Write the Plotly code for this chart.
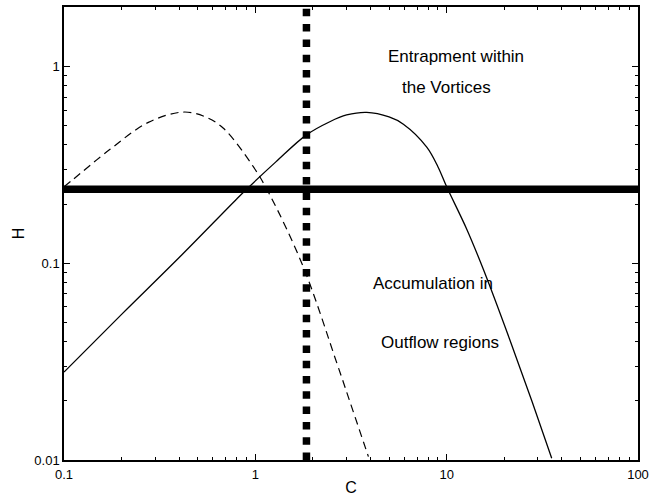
import plotly.graph_objects as go

# Solid curve
solid_c = [0.1, 0.2, 0.4, 0.79, 0.9, 1.28, 1.85, 2.45, 3.0, 3.82, 5.0, 5.94, 7.87, 9.0, 10.0, 12.7, 15.6, 21.4, 28.0, 35.4]
solid_h = [0.028, 0.055, 0.107, 0.21, 0.238, 0.328, 0.45, 0.525, 0.568, 0.586, 0.555, 0.51, 0.39, 0.31, 0.245, 0.15, 0.0925, 0.0408, 0.0197, 0.0102]

# Dashed curve
dash_c = [0.1, 0.112, 0.174, 0.276, 0.421, 0.55, 0.681, 0.976, 1.19, 1.78, 2.67, 3.2, 3.9]
dash_h = [0.245, 0.268, 0.38, 0.521, 0.588, 0.555, 0.486, 0.31, 0.223, 0.096, 0.031, 0.0184, 0.0104]

# Threshold lines
h_threshold = 0.238
c_threshold = 1.85

x_ticks = [0.1, 1, 10, 100]
x_ticklabels = ["0.1", "1", "10", "100"]
y_ticks = [0.01, 0.1, 1]
y_ticklabels = ["0.01", "0.1", "1"]

x_range = [0.1, 100]
y_range = [0.01, 2.01]

FONT = "Liberation Sans, Arial, Helvetica, sans-serif"

fig = go.Figure()

fig.add_trace(go.Scatter(x=x_range, y=[h_threshold, h_threshold], mode="lines",
                         line=dict(color="black", width=7.5), showlegend=False))
fig.add_trace(go.Scatter(x=[c_threshold, c_threshold], y=y_range, mode="lines",
                         line=dict(color="black", width=7.5, dash="7.5px,7.8px"), showlegend=False))
fig.add_trace(go.Scatter(x=solid_c, y=solid_h, mode="lines", line_shape="spline",
                         line=dict(color="black", width=1.3), showlegend=False))
fig.add_trace(go.Scatter(x=dash_c, y=dash_h, mode="lines", line_shape="spline",
                         line=dict(color="black", width=1.2, dash="8px,5px"), showlegend=False))

annots = [
    ("Entrapment within", 456, 56),
    ("the Vortices", 446, 87),
    ("Accumulation in", 433, 283),
    ("Outflow regions", 440, 342),
]
for txt, px, py in annots:
    fig.add_annotation(text=txt, xref="paper", yref="paper",
                       x=(px - 64) / 574, y=1 - (py - 7) / 453,
                       xanchor="center", yanchor="middle", showarrow=False,
                       font=dict(family=FONT, size=17, color="black"))

axis_common = dict(
    type="log", showgrid=False, zeroline=False,
    showline=True, linecolor="black", linewidth=1.5, mirror="ticks",
    ticks="inside", ticklen=6, tickwidth=1, tickcolor="black",
    minor=dict(ticks="inside", ticklen=3.5, dtick="D1", tickcolor="black", tickwidth=1, showgrid=False),
    tickfont=dict(family=FONT, size=13, color="black"),
)

fig.update_xaxes(**axis_common, range=[-1, 2], tickvals=x_ticks, ticktext=x_ticklabels,
                 ticklabelstandoff=2,
                 title=dict(text="C", font=dict(family=FONT, size=16, color="black"), standoff=1))
fig.update_yaxes(**axis_common, range=[-2, 0.3035], tickvals=y_ticks, ticktext=y_ticklabels,
                 title=dict(text="H", font=dict(family=FONT, size=16, color="black"), standoff=6))

fig.update_layout(
    width=649, height=496,
    margin=dict(l=64, r=11, t=7, b=36, autoexpand=False),
    paper_bgcolor="white", plot_bgcolor="white",
    font=dict(family=FONT, color="black"),
)

fig.write_html("out.html", config={"displayModeBar": False},
               post_script="document.body.style.margin='0px';document.body.style.overflow='hidden';")
